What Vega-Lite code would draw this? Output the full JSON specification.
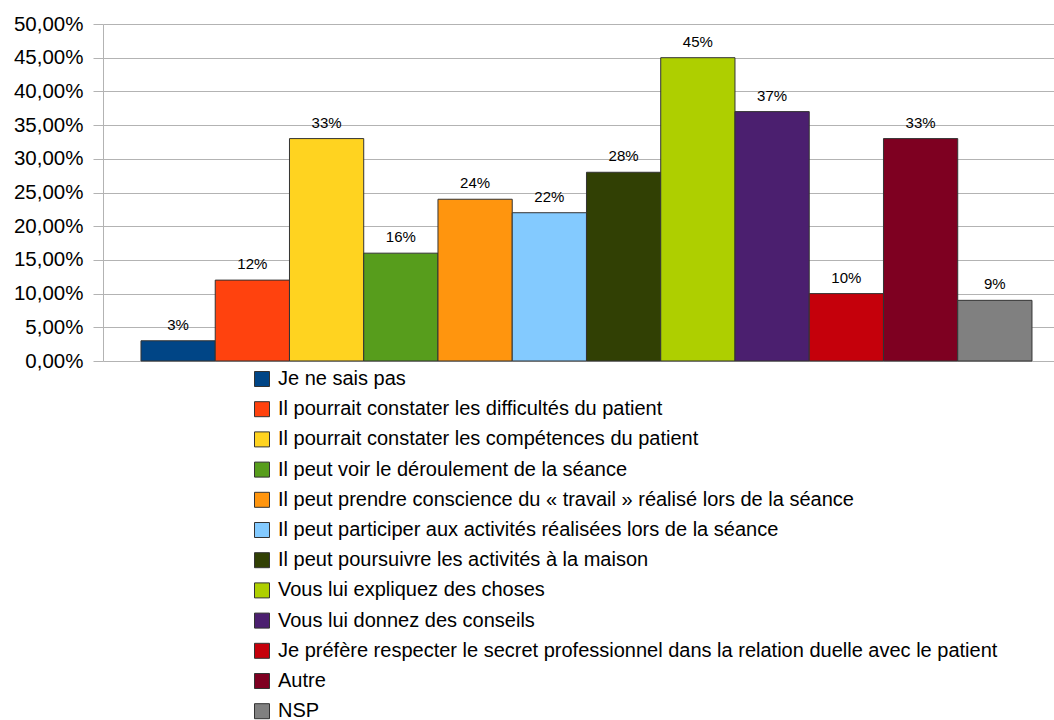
{
  "$schema": "https://vega.github.io/schema/vega-lite/v6.json",
  "autosize": {"type": "none"},
  "padding": {"left": 103, "top": 24, "right": 0, "bottom": 359},
  "width": 951,
  "height": 337,
  "background": "white",
  "config": {
    "font": "Liberation Sans",
    "view": {"stroke": null}
  },
  "data": {
    "values": [
      {"cat": "Je ne sais pas", "v": 0.03, "lbl": "3%"},
      {"cat": "Il pourrait constater les difficultés du patient", "v": 0.12, "lbl": "12%"},
      {"cat": "Il pourrait constater les compétences du patient", "v": 0.33, "lbl": "33%"},
      {"cat": "Il peut voir le déroulement de la séance", "v": 0.16, "lbl": "16%"},
      {"cat": "Il peut prendre conscience du « travail » réalisé lors de la séance", "v": 0.24, "lbl": "24%"},
      {"cat": "Il peut participer aux activités réalisées lors de la séance", "v": 0.22, "lbl": "22%"},
      {"cat": "Il peut poursuivre les activités à la maison", "v": 0.28, "lbl": "28%"},
      {"cat": "Vous lui expliquez des choses", "v": 0.45, "lbl": "45%"},
      {"cat": "Vous lui donnez des conseils", "v": 0.37, "lbl": "37%"},
      {"cat": "Je préfère respecter le secret professionnel dans la relation duelle avec le patient", "v": 0.10, "lbl": "10%"},
      {"cat": "Autre", "v": 0.33, "lbl": "33%"},
      {"cat": "NSP", "v": 0.09, "lbl": "9%"}
    ]
  },
  "encoding": {
    "x": {
      "field": "cat",
      "type": "nominal",
      "sort": null,
      "axis": null,
      "scale": {"paddingInner": 0, "paddingOuter": 0.404, "align": 0.633}
    },
    "y": {
      "field": "v",
      "type": "quantitative",
      "scale": {"domain": [0, 0.5], "nice": false},
      "axis": {
        "title": null,
        "values": [0, 0.05, 0.1, 0.15, 0.2, 0.25, 0.3, 0.35, 0.4, 0.45, 0.5],
        "labelExpr": "replace(format(datum.value * 100, '.2f'), '.', ',') + '%'",
        "labelFontSize": 20.5,
        "labelColor": "#000000",
        "labelPadding": 10,
        "tickSize": 10,
        "tickColor": "#b3b3b3",
        "domainColor": "#b3b3b3",
        "gridColor": "#b3b3b3",
        "gridOpacity": 1,
        "grid": true
      }
    }
  },
  "layer": [
    {
      "mark": {"type": "bar", "stroke": "#333333", "strokeWidth": 1},
      "encoding": {
        "color": {
          "field": "cat",
          "type": "nominal",
          "sort": null,
          "scale": {
            "range": ["#004586", "#ff420e", "#ffd320", "#579d1c", "#ff950e", "#83caff", "#314004", "#aecf00", "#4b1f6f", "#c5000b", "#7e0021", "#808080"]
          },
          "legend": {
            "title": null,
            "orient": "none",
            "legendX": 149,
            "legendY": 345,
            "direction": "vertical",
            "symbolType": "square",
            "symbolSize": 225,
            "symbolStrokeColor": "#333333",
            "symbolStrokeWidth": 1,
            "symbolOpacity": 1,
            "labelFontSize": 20,
            "labelColor": "#000000",
            "labelOffset": 6,
            "labelLimit": 900,
            "rowPadding": 10.2,
            "padding": 0
          }
        }
      }
    },
    {
      "mark": {"type": "text", "baseline": "alphabetic", "dy": -11, "fontSize": 15, "color": "#000000"},
      "encoding": {"text": {"field": "lbl"}}
    }
  ]
}
